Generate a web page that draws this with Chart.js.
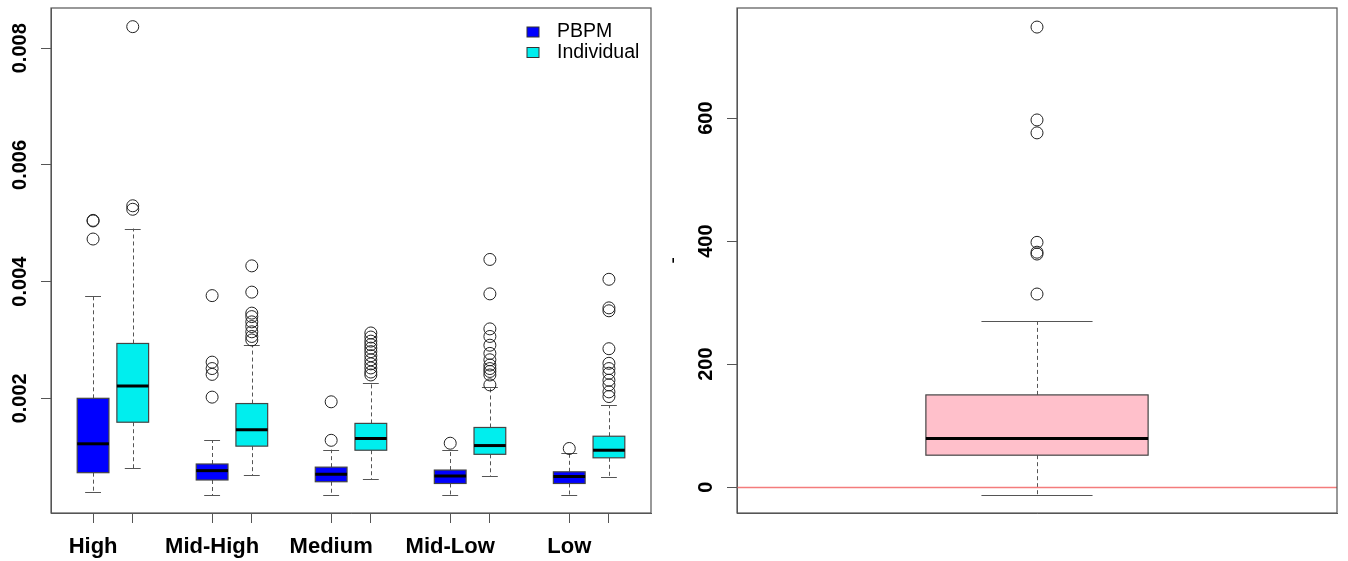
<!DOCTYPE html>
<html>
<head>
<meta charset="utf-8">
<script src="https://cdn.jsdelivr.net/npm/chart.js@4.4.0/dist/chart.umd.min.js"></script>
<style>
  html, body { margin: 0; padding: 0; background: #fff; }
  #wrap { position: relative; width: 1348px; height: 561px; }
  #left { position: absolute; left: 0; top: 0; }
  #right { position: absolute; left: 666px; top: 0; }
</style>
</head>
<body>
<div id="wrap">
  <canvas id="left" width="666" height="561"></canvas>
  <canvas id="right" width="682" height="561"></canvas>
</div>
<script>
// ---- left panel data ----
const categories = ['High', 'Mid-High', 'Medium', 'Mid-Low', 'Low'];
const pbpmPos = [1, 4, 7, 10, 13];
const indivPos = [2, 5, 8, 11, 14];
const leftYTicks = [0.002, 0.004, 0.006, 0.008];

const pbpmLow  = [0.00040, 0.00034, 0.00034, 0.00034, 0.00035];
const pbpmQ1   = [0.000725, 0.00060, 0.00057, 0.00054, 0.00054];
const pbpmMed  = [0.00122, 0.00076, 0.00070, 0.00067, 0.00066];
const pbpmQ3   = [0.00200, 0.000874, 0.00082, 0.00077, 0.00074];
const pbpmHigh = [0.00375, 0.00128, 0.00112, 0.00111, 0.00106];
const pbpmOut  = [
  [0.00505, 0.00504, 0.00473],
  [0.00376, 0.00262, 0.00251, 0.00241, 0.00202],
  [0.00194, 0.00128],
  [0.00123],
  [0.00114]
];

const indivLow  = [0.00080, 0.00068, 0.00061, 0.00067, 0.00065];
const indivQ1   = [0.00159, 0.00118, 0.00111, 0.00104, 0.00098];
const indivMed  = [0.00221, 0.00146, 0.00131, 0.00119, 0.00111];
const indivQ3   = [0.00294, 0.00191, 0.00157, 0.00150, 0.00135];
const indivHigh = [0.00491, 0.00291, 0.00227, 0.00219, 0.00188];
const indivOut  = [
  [0.00837, 0.00530, 0.00524],
  [0.00427, 0.00382, 0.00346, 0.00340, 0.00331, 0.00323, 0.00314, 0.00306, 0.00300],
  [0.00312, 0.00305, 0.00298, 0.00292, 0.00286, 0.00280, 0.00273, 0.00266, 0.00259, 0.00252, 0.00245, 0.00240],
  [0.00438, 0.00379, 0.00319, 0.00306, 0.00291, 0.00277, 0.00266, 0.00257, 0.00251, 0.00246, 0.00240, 0.00223],
  [0.00404, 0.00355, 0.00350, 0.00285, 0.00260, 0.00251, 0.00243, 0.00231, 0.00223, 0.00211, 0.00203]
];

// ---- right panel data ----
const rightYTicks = [0, 200, 400, 600];
const rightLow = [-13];
const rightQ1 = [52];
const rightMed = [79];
const rightQ3 = [150];
const rightHigh = [270];
const rightOut = [[748, 597, 576, 398, 382, 379, 314]];

const FONT = '"Liberation Sans", Arial, sans-serif';
const AXIS_GREY = '#555';

function boxStats(pos, lo, q1, med, q3, hi, color) {
  return pos.map((p, i) => ({ pos: p, lo: lo[i], q1: q1[i], med: med[i], q3: q3[i], hi: hi[i], color }));
}

function outlierPoints(pos, outs) {
  const pts = [];
  pos.forEach((p, i) => outs[i].forEach(v => pts.push({ x: p, y: v })));
  return pts;
}

// draws boxes / whiskers via the chart's scales
const boxPlugin = {
  id: 'boxes',
  beforeDatasetsDraw(chart, args, opts) {
    const { ctx } = chart;
    const xs = chart.scales.x, ys = chart.scales.y;
    ctx.save();
    opts.boxes.forEach(b => {
      const cx = xs.getPixelForValue(b.pos);
      const hw = xs.getPixelForValue(b.pos + opts.boxwex / 2) - cx;
      const sw = hw / 2;
      const yLo = ys.getPixelForValue(b.lo), yQ1 = ys.getPixelForValue(b.q1);
      const yMed = ys.getPixelForValue(b.med), yQ3 = ys.getPixelForValue(b.q3);
      const yHi = ys.getPixelForValue(b.hi);
      // whiskers
      ctx.strokeStyle = AXIS_GREY;
      ctx.lineWidth = 1;
      ctx.setLineDash([4, 3]);
      ctx.beginPath();
      ctx.moveTo(Math.round(cx) + 0.5, yQ3); ctx.lineTo(Math.round(cx) + 0.5, yHi);
      ctx.moveTo(Math.round(cx) + 0.5, yQ1); ctx.lineTo(Math.round(cx) + 0.5, yLo);
      ctx.stroke();
      ctx.setLineDash([]);
      ctx.beginPath();
      ctx.moveTo(cx - sw, Math.round(yHi) + 0.5); ctx.lineTo(cx + sw, Math.round(yHi) + 0.5);
      ctx.moveTo(cx - sw, Math.round(yLo) + 0.5); ctx.lineTo(cx + sw, Math.round(yLo) + 0.5);
      ctx.stroke();
      // box
      ctx.fillStyle = b.color;
      ctx.fillRect(cx - hw, yQ3, 2 * hw, yQ1 - yQ3);
      ctx.strokeStyle = '#444';
      ctx.lineWidth = 1.2;
      ctx.strokeRect(cx - hw, yQ3, 2 * hw, yQ1 - yQ3);
      // median
      ctx.strokeStyle = '#000';
      ctx.lineWidth = 3;
      ctx.beginPath();
      ctx.moveTo(cx - hw, yMed); ctx.lineTo(cx + hw, yMed);
      ctx.stroke();
    });
    ctx.restore();
  },
  afterDraw(chart, args, opts) {
    const { ctx, chartArea: a } = chart;
    const xs = chart.scales.x, ys = chart.scales.y;
    ctx.save();
    // reference line
    if (opts.refLine !== undefined) {
      const y = ys.getPixelForValue(opts.refLine);
      ctx.strokeStyle = '#F47C7C';
      ctx.lineWidth = 1.5;
      ctx.beginPath();
      ctx.moveTo(a.left, Math.round(y) + 0.5); ctx.lineTo(a.right, Math.round(y) + 0.5);
      ctx.stroke();
    }
    // frame
    ctx.strokeStyle = AXIS_GREY;
    ctx.lineWidth = 1.2;
    ctx.strokeRect(a.left, a.top, a.right - a.left, a.bottom - a.top);
    // rotated y tick labels
    ctx.fillStyle = '#000';
    ctx.font = 'bold 20px ' + FONT;
    ctx.textAlign = 'center';
    ctx.textBaseline = 'alphabetic';
    ys.ticks.forEach(t => {
      const y = ys.getPixelForValue(t.value);
      ctx.save();
      ctx.translate(a.left - 25.5, y);
      ctx.rotate(-Math.PI / 2);
      ctx.fillText(opts.yLabel(t.value), 0, 0);
      ctx.restore();
    });
    // y title
    if (opts.yTitle) {
      ctx.save();
      ctx.font = '20px ' + FONT;
      ctx.translate(12.5, (a.top + a.bottom) / 2);
      ctx.rotate(-Math.PI / 2);
      ctx.fillText(opts.yTitle, 0, 0);
      ctx.restore();
    }
    // x category labels
    if (opts.xLabels) {
      ctx.font = 'bold 22px ' + FONT;
      opts.xLabels.pos.forEach((p, i) => {
        ctx.fillText(opts.xLabels.text[i], xs.getPixelForValue(p), 553);
      });
    }
    // legend
    if (opts.legend) {
      ctx.font = '19.5px ' + FONT;
      ctx.textAlign = 'left';
      ctx.textBaseline = 'middle';
      opts.legend.forEach((l, i) => {
        const y = 32 + i * 20.5;
        ctx.fillStyle = l.color;
        ctx.fillRect(527, y - 5, 12, 10);
        ctx.strokeStyle = '#333';
        ctx.lineWidth = 1;
        ctx.strokeRect(527, y - 5, 12, 10);
        ctx.fillStyle = '#000';
        ctx.fillText(l.label, 557, y);
      });
    }
    ctx.restore();
  }
};

function scaleOpts(min, max, ticks, width, isX) {
  return {
    type: 'linear',
    min, max,
    afterBuildTicks: s => { s.ticks = ticks.map(v => ({ value: v })); },
    afterFit: s => { if (isX) s.height = width; else s.width = width; },
    ticks: { display: false },
    grid: { display: true, drawOnChartArea: false, drawTicks: true, tickLength: 10, color: AXIS_GREY },
    border: { display: true, color: AXIS_GREY }
  };
}

function outlierDataset(label, pts) {
  return {
    type: 'scatter', label, data: pts,
    pointStyle: 'circle', pointRadius: 6, pointBackgroundColor: 'rgba(0,0,0,0)',
    pointBorderColor: '#222', pointBorderWidth: 1
  };
}

Chart.defaults.font.family = FONT;

new Chart(document.getElementById('left'), {
  type: 'scatter',
  data: {
    datasets: [
      outlierDataset('PBPM', outlierPoints(pbpmPos, pbpmOut)),
      outlierDataset('Individual', outlierPoints(indivPos, indivOut))
    ]
  },
  options: {
    responsive: false, animation: false, devicePixelRatio: 1,
    layout: { padding: { left: 0, right: 15, top: 8, bottom: 0 } },
    scales: {
      x: scaleOpts(-0.06, 15.06, pbpmPos.concat(indivPos).sort((a, b) => a - b), 48, true),
      y: scaleOpts(0.000034, 0.00869, leftYTicks, 51, false)
    },
    plugins: {
      legend: { display: false }, tooltip: { enabled: false },
      boxes: {
        boxwex: 0.8,
        boxes: boxStats(pbpmPos, pbpmLow, pbpmQ1, pbpmMed, pbpmQ3, pbpmHigh, '#0000FF')
          .concat(boxStats(indivPos, indivLow, indivQ1, indivMed, indivQ3, indivHigh, '#00EEEE')),
        yLabel: v => v.toFixed(3),
        xLabels: { pos: pbpmPos, text: categories },
        legend: [{ label: 'PBPM', color: '#0000FF' }, { label: 'Individual', color: '#00EEEE' }]
      }
    }
  },
  plugins: [boxPlugin]
});

new Chart(document.getElementById('right'), {
  type: 'scatter',
  data: { datasets: [outlierDataset('values', outlierPoints([1], rightOut))] },
  options: {
    responsive: false, animation: false, devicePixelRatio: 1,
    layout: { padding: { left: 0, right: 11, top: 8, bottom: 0 } },
    scales: {
      x: Object.assign(scaleOpts(0.46, 1.54, [], 48, true), { grid: { display: false }, border: { display: true, color: AXIS_GREY } }),
      y: scaleOpts(-42, 779, rightYTicks, 71, false)
    },
    plugins: {
      legend: { display: false }, tooltip: { enabled: false },
      boxes: {
        boxwex: 0.4,
        boxes: boxStats([1], rightLow, rightQ1, rightMed, rightQ3, rightHigh, '#FFC0CB'),
        yLabel: v => String(v),
        yTitle: '-',
        refLine: 0
      }
    }
  },
  plugins: [boxPlugin]
});
</script>
</body>
</html>
